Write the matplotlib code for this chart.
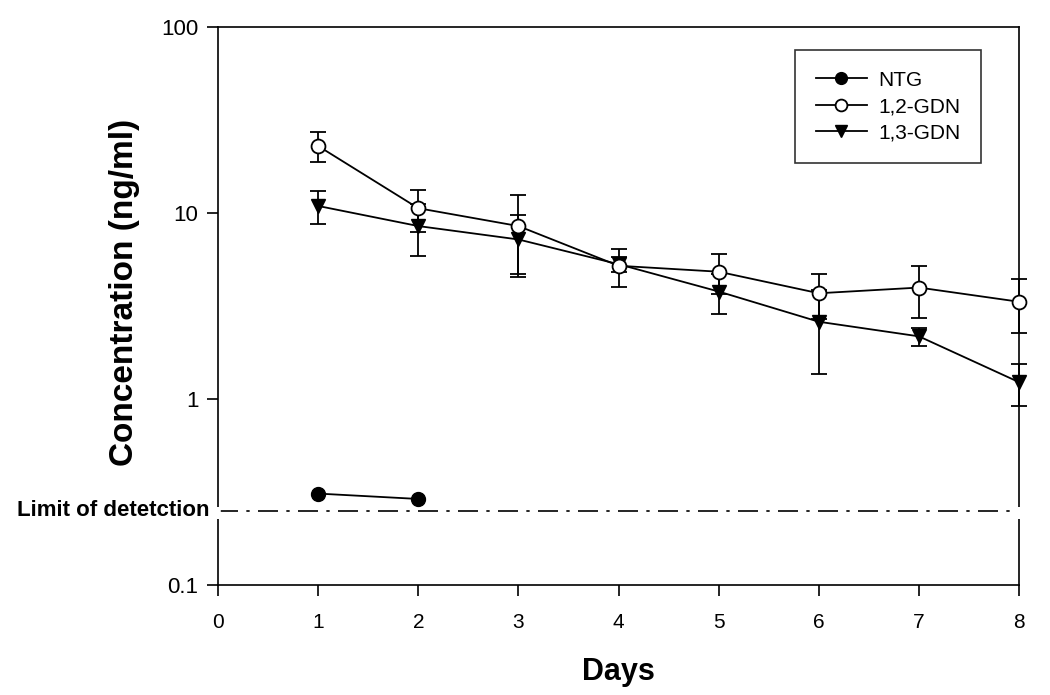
import numpy as np
import matplotlib.pyplot as plt

plt.rcParams['font.family'] = ['Liberation Sans', 'DejaVu Sans']

days = [1, 2, 3, 4, 5, 6, 7, 8]

ntg_days = [1, 2]
ntg = [0.31, 0.29]

gdn12 = [22.9, 10.6, 8.5, 5.2, 4.83, 3.70, 3.97, 3.33]
gdn12_err = [4.2, 2.7, 4.0, 1.2, 1.17, 1.0, 1.23, 1.07]

gdn13 = [10.9, 8.5, 7.2, 5.3, 3.78, 2.6, 2.17, 1.23]
gdn13_err = [2.2, 2.6, 2.5, 0.5, 0.92, 1.24, 0.25, 0.31]

lod = 0.25

fig = plt.figure(figsize=(10.5, 6.95), dpi=100)
ax = fig.add_axes([0.2076, 0.1583, 0.763, 0.803])

ms = 10
eb13 = ax.errorbar(days, gdn13, yerr=gdn13_err, color='black', lw=1.3, capsize=6,
                   capthick=1.3, elinewidth=1.3, marker='v', ms=ms, mfc='black',
                   mec='black', zorder=3)
eb12 = ax.errorbar(days, gdn12, yerr=gdn12_err, color='black', lw=1.3, capsize=6,
                   capthick=1.3, elinewidth=1.3, marker='o', ms=ms, mfc='white',
                   mec='black', mew=1.3, zorder=4)
ntg_line, = ax.plot(ntg_days, ntg, color='black', lw=1.3, marker='o', ms=ms,
                    zorder=5)
for eb in (eb12, eb13):
    for art in eb.get_children():
        art.set_clip_on(False)

# limit of detection line, with white breaks through the spines
ax.axhline(lod, color='black', lw=1.2, ls=(0, (12, 5, 2, 5)), zorder=3)
for xs in (0, 8):
    ax.plot([xs, xs], [lod * 0.9, lod * 1.05], color='white', lw=4,
            clip_on=False, zorder=6, solid_capstyle='butt')
ax.text(-0.08, lod, 'Limit of detetction', ha='right', va='center',
        fontsize=16, fontweight='bold')

ax.set_yscale('log')
ax.set_ylim(0.1, 100)
ax.set_xlim(0, 8)
ax.set_xticks(range(0, 9))
ax.set_yticks([0.1, 1, 10, 100])
ax.set_yticklabels(['0.1', '1', '10', '100'])
ax.yaxis.set_minor_locator(plt.NullLocator())
ax.tick_params(direction='out', length=8, width=1.2, pad=6)
ax.tick_params(axis='y', labelsize=16)
ax.tick_params(axis='x', labelsize=15, pad=12)
ax.tick_params(top=False, right=False)
for s in ax.spines.values():
    s.set_linewidth(1.2)

ax.set_xlabel('Days', fontsize=22, fontweight='bold', labelpad=18)
ax.set_ylabel('Concentration (ng/ml)', fontsize=24, fontweight='bold')
ax.yaxis.set_label_coords(-0.0974, 0.525)

leg = ax.legend([ntg_line, eb12[0], eb13[0]], ['NTG', '1,2-GDN', '1,3-GDN'],
                loc='upper right', bbox_to_anchor=(0.9526, 0.9588),
                borderaxespad=0, fontsize=15, frameon=True, fancybox=False,
                edgecolor='black', handlelength=2.45, borderpad=1.0,
                labelspacing=0.35, handletextpad=0.55, markerscale=0.85)
leg.get_frame().set_linewidth(1.2)

fig.savefig('out.png', dpi=100)
